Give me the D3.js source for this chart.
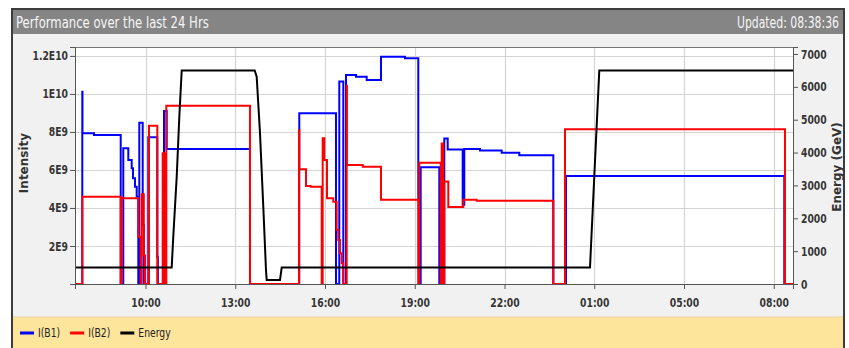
<!DOCTYPE html>
<html>
<head>
<meta charset="utf-8">
<script src="https://cdn.jsdelivr.net/npm/d3@7"></script>
<style>
  body { margin: 0; background: #ffffff; }
  svg { display: block; }
</style>
</head>
<body>
<svg id="chart" width="849" height="348"></svg>
<script>
// Beam 1 intensity, step values: [hours since window start, protons ×1E9]
const beam1 = [
  [0, 0], [0.244, 10.12], [0.25, 7.93], [0.635, 7.84], [1.528, 0], [1.614, 7.14],
  [1.782, 6.53], [1.895, 6.09], [1.939, 5.56], [2.006, 5.12], [2.062, 4.59],
  [2.116, 0], [2.149, 8.49], [2.263, 3.11], [2.30, 0], [2.45, 7.72], [2.751, 1.44],
  [2.77, 0], [2.975, 9.1], [3.065, 7.1], [5.849, 0], [7.497, 8.98], [8.724, 0],
  [8.834, 10.65], [8.968, 0], [9.058, 11.0], [9.393, 10.91], [9.75, 10.74],
  [10.228, 11.96], [11.03, 11.88], [11.475, 4.43], [11.49, 0], [11.555, 6.14],
  [12.177, 0], [12.344, 7.65], [12.458, 7.08], [12.959, 4.17], [13.012, 7.1],
  [13.537, 7.02], [14.263, 6.91], [14.851, 6.78], [15.988, 0], [16.412, 5.68],
  [23.709, 0], [24, 0]
];

// Beam 2 intensity, step values: [hours since window start, protons ×1E9]
const beam2 = [
  [0, 0], [0.244, 4.59], [1.528, 0], [1.561, 4.51], [2.116, 2.49], [2.196, 0],
  [2.229, 4.72], [2.30, 1.5], [2.34, 0], [2.473, 8.32], [2.751, 0], [2.931, 6.88],
  [3.0, 0], [3.052, 9.38], [5.849, 0], [7.487, 8.1], [7.497, 6.04], [7.721, 5.16],
  [7.878, 5.12], [8.246, 0], [8.279, 7.67], [8.333, 6.53], [8.423, 4.51],
  [8.634, 4.33], [8.747, 2.84], [8.80, 2.32], [8.857, 1.62], [8.913, 1.09],
  [8.968, 0], [9.082, 10.43], [9.09, 6.26], [9.617, 6.17], [10.228, 4.43],
  [11.475, 0], [11.509, 6.38], [12.224, 0], [12.257, 7.39], [12.311, 0],
  [12.344, 5.39], [12.478, 4.05], [12.979, 4.43], [13.427, 4.38], [15.988, 0],
  [16.379, 8.14], [23.732, 0], [24, 0]
];

// Beam energy in GeV: [hours since window start, GeV], ramps drawn as straight segments
const beamEnergy = [
  [0, 500], [3.232, 500], [3.285, 1440], [3.40, 3265], [3.487, 5090], [3.567, 6500],
  [6.007, 6500], [6.073, 6309], [6.184, 4587], [6.294, 2352], [6.384, 426],
  [6.408, 120], [6.852, 120], [6.909, 500], [17.214, 500], [17.525, 6500], [24, 6500]
];

// Clock labels along the time axis (the window crosses a daylight-saving change)
const timeTickHours = [2.357, 5.357, 8.357, 11.357, 14.357, 17.357, 20.357, 23.357];
const timeTickLabels = ["10:00", "13:00", "16:00", "19:00", "22:00", "01:00", "05:00", "08:00"];

const intensityTicks = [2, 4, 6, 8, 10, 12];
const intensityTickLabels = ["2E9", "4E9", "6E9", "8E9", "1E10", "1.2E10"];

const energyTicks = [0, 1000, 2000, 3000, 4000, 5000, 6000, 7000];

const seriesNames = ["I(B1)", "I(B2)", "Energy"];

const titleText = "Performance over the last 24 Hrs";
const updatedText = "Updated: 08:38:36";

// ---- drawing ----
const colors = ["#0000ff", "#ff0000", "#000000"];
const sans = "'DejaVu Sans', sans-serif";
const svg = d3.select("#chart");

const plot = { left: 75, right: 793, top: 47, bottom: 284 };

// panel frame and background
svg.append("rect").attr("x", 12).attr("y", 9).attr("width", 832).attr("height", 345)
  .attr("fill", "#f1f1f1").attr("stroke", "#3c3c3c").attr("stroke-width", 2);
svg.append("rect").attr("x", 13).attr("y", 10).attr("width", 830).attr("height", 24)
  .attr("fill", "#858585");
svg.append("rect").attr("x", 13).attr("y", 317).attr("width", 830).attr("height", 40)
  .attr("fill", "#fde59b");
svg.append("line").attr("x1", 13).attr("x2", 843).attr("y1", 317).attr("y2", 317)
  .attr("stroke", "#e2d3a0").attr("stroke-width", 1);

// header texts, squeezed horizontally into a narrow face
function narrowText(parent, str, xPos, yPos, width, anchorEnd) {
  const t = parent.append("text").attr("y", yPos).text(str)
    .attr("font-family", sans).attr("font-size", 16.5).attr("fill", "#f6f6f6");
  const natural = t.node().getComputedTextLength();
  const s = width / natural;
  const left = anchorEnd ? xPos - width : xPos;
  t.attr("x", left / s).attr("transform", `scale(${s},1)`);
  return t;
}
narrowText(svg, titleText, 16, 28, 193, false);
narrowText(svg, updatedText, 839, 28, 102, true);

// scales
const x = d3.scaleLinear().domain([0, 24]).range([plot.left, plot.right]);
const yI = d3.scaleLinear().domain([0, 12.47]).range([plot.bottom, plot.top]);
const yE = d3.scaleLinear().domain([0, 7213]).range([plot.bottom, plot.top]);

// plot background
svg.append("rect").attr("x", plot.left).attr("y", plot.top)
  .attr("width", plot.right - plot.left).attr("height", plot.bottom - plot.top)
  .attr("fill", "#ffffff");

// grid
const grid = svg.append("g").attr("stroke", "#d4d4d4").attr("stroke-width", 1.2);
grid.selectAll("line.h").data(intensityTicks).join("line").attr("class", "h")
  .attr("x1", plot.left).attr("x2", plot.right)
  .attr("y1", d => Math.round(yI(d)) + 0.5).attr("y2", d => Math.round(yI(d)) + 0.5);
grid.selectAll("line.v").data(timeTickHours).join("line").attr("class", "v")
  .attr("y1", plot.top).attr("y2", plot.bottom)
  .attr("x1", d => Math.round(x(d)) + 0.5).attr("x2", d => Math.round(x(d)) + 0.5);

// plot border
svg.append("rect").attr("x", plot.left + 0.5).attr("y", plot.top + 0.5)
  .attr("width", plot.right - plot.left).attr("height", plot.bottom - plot.top)
  .attr("fill", "none").attr("stroke", "#777").attr("stroke-width", 1);

// series
const stepLine = d3.line().x(d => x(d[0])).y(d => yI(d[1])).curve(d3.curveStepAfter);
const energyLine = d3.line().x(d => x(d[0])).y(d => yE(d[1]));

svg.append("path").datum(beam1).attr("d", stepLine)
  .attr("fill", "none").attr("stroke", colors[0]).attr("stroke-width", 2);
svg.append("path").datum(beam2).attr("d", stepLine)
  .attr("fill", "none").attr("stroke", colors[1]).attr("stroke-width", 2);
svg.append("path").datum(beamEnergy).attr("d", energyLine)
  .attr("fill", "none").attr("stroke", colors[2]).attr("stroke-width", 2);

// axes; tick labels are squeezed horizontally to a condensed look
const squeeze = 0.74;
function styleAxis(g) {
  g.select(".domain").attr("stroke", "#555");
  g.selectAll(".tick line").attr("stroke", "#555");
  g.selectAll(".tick text").attr("font-family", sans).attr("font-weight", "bold")
    .attr("font-size", 12.5).attr("fill", "#353535")
    .each(function () {
      const t = d3.select(this);
      const x0 = +t.attr("x") || 0;
      t.attr("x", x0 / squeeze).attr("transform", `scale(${squeeze},1)`);
    });
}

svg.append("g").attr("transform", `translate(${plot.left},0)`)
  .call(d3.axisLeft(yI).tickValues(intensityTicks)
    .tickFormat((d, i) => intensityTickLabels[i]).tickSize(5).tickPadding(2))
  .call(styleAxis);

svg.append("g").attr("transform", `translate(${plot.right},0)`)
  .call(d3.axisRight(yE).tickValues(energyTicks).tickFormat(d3.format("d"))
    .tickSize(5).tickPadding(3))
  .call(styleAxis);

svg.append("g").attr("transform", `translate(0,${plot.bottom})`)
  .call(d3.axisBottom(x).tickValues(timeTickHours)
    .tickFormat((d, i) => timeTickLabels[i]).tickSize(5).tickPadding(9))
  .call(styleAxis);

// axis titles
svg.append("text").attr("transform", "translate(28,163) rotate(-90)")
  .attr("text-anchor", "middle").text("Intensity")
  .attr("font-family", sans).attr("font-weight", "bold")
  .attr("font-size", 12).attr("fill", "#333");
svg.append("text").attr("transform", "translate(841,167) rotate(-90)")
  .attr("text-anchor", "middle").text("Energy (GeV)")
  .attr("font-family", sans).attr("font-weight", "bold")
  .attr("font-size", 12).attr("fill", "#333");

// legend
const legend = svg.append("g").attr("transform", "translate(20,333)");
let lx = 0;
seriesNames.forEach((name, i) => {
  legend.append("line").attr("x1", lx).attr("x2", lx + 14).attr("y1", 0).attr("y2", 0)
    .attr("stroke", colors[i]).attr("stroke-width", 3);
  const t = legend.append("text").attr("x", (lx + 18) / 0.74).attr("y", 4).text(name)
    .attr("font-family", sans).attr("font-size", 12.5).attr("fill", "#222")
    .attr("transform", "scale(0.74,1)");
  lx += 18 + t.node().getComputedTextLength() * 0.74 + 10;
});
</script>
</body>
</html>
